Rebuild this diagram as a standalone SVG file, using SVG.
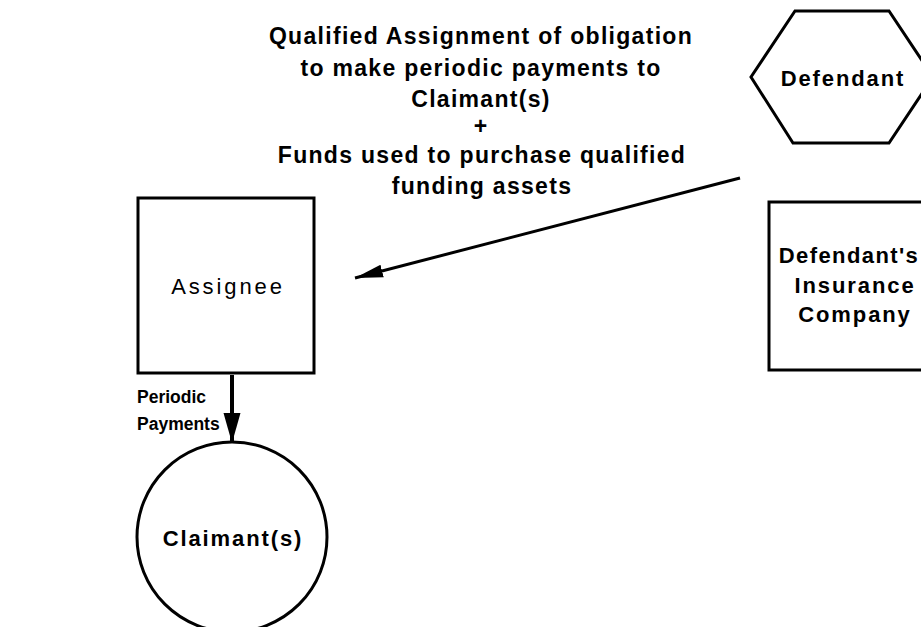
<svg xmlns="http://www.w3.org/2000/svg" width="921" height="627" viewBox="0 0 921 627">
<style>
text{font-family:"Liberation Sans",Arial,sans-serif;fill:#000}
.t{font-size:23px;font-weight:bold;letter-spacing:1.3px;text-anchor:middle}
.n{font-size:22px;font-weight:bold;letter-spacing:1.9px;text-anchor:middle}
.r{font-size:22px;font-weight:normal;letter-spacing:2.9px;text-anchor:middle}
.l{font-size:17.5px;font-weight:bold}
.shape{fill:#fff;stroke:#000;stroke-width:3}
.conn{stroke:#000;fill:none}
</style>
<defs>
<marker id="headA" markerUnits="userSpaceOnUse" viewBox="0 -7 28 14" refX="28" refY="0" markerWidth="28" markerHeight="14" orient="auto">
<path d="M0,-6.5 L28,0 L0,6.5 z" fill="#000"/>
</marker>
<marker id="headB" markerUnits="userSpaceOnUse" viewBox="0 -9 30 18" refX="30" refY="0" markerWidth="30" markerHeight="18" orient="auto">
<path d="M0,-8.5 L30,0 L0,8.5 z" fill="#000"/>
</marker>
</defs>
<g id="label-top">
<text class="t" x="481" y="44">Qualified Assignment of obligation</text>
<text class="t" x="481" y="76">to make periodic payments to</text>
<text class="t" x="481" y="107">Claimant(s)</text>
<text class="t" x="481" y="134">+</text>
<text class="t" x="482" y="163">Funds used to purchase qualified</text>
<text class="t" x="482" y="194">funding assets</text>
</g>
<g id="defendant">
<polygon class="shape" stroke-width="2.5" points="795,11 889,11 933,77 889,143 793,143 751,77"/>
<text class="n" x="843" y="86">Defendant</text>
</g>
<g id="insurance">
<rect class="shape" x="769" y="202" width="172" height="168"/>
<text class="n" x="849" y="263" style="letter-spacing:1.4px">Defendant's</text>
<text class="n" x="855" y="293">Insurance</text>
<text class="n" x="855" y="322">Company</text>
</g>
<g id="assignee">
<rect class="shape" x="138" y="198" width="176" height="175"/>
<text class="r" x="228" y="294">Assignee</text>
</g>
<g id="claimant">
<circle class="shape" cx="232" cy="537" r="95"/>
<text class="n" x="233" y="546">Claimant(s)</text>
</g>
<g id="connectors">
<line class="conn" stroke-width="3" x1="740" y1="178" x2="355" y2="278" marker-end="url(#headA)"/>
<line class="conn" stroke-width="4" x1="232" y1="375" x2="232" y2="443" marker-end="url(#headB)"/>
</g>
<g id="label-periodic">
<text class="l" x="137" y="403">Periodic</text>
<text class="l" x="137" y="430">Payments</text>
</g>
</svg>
